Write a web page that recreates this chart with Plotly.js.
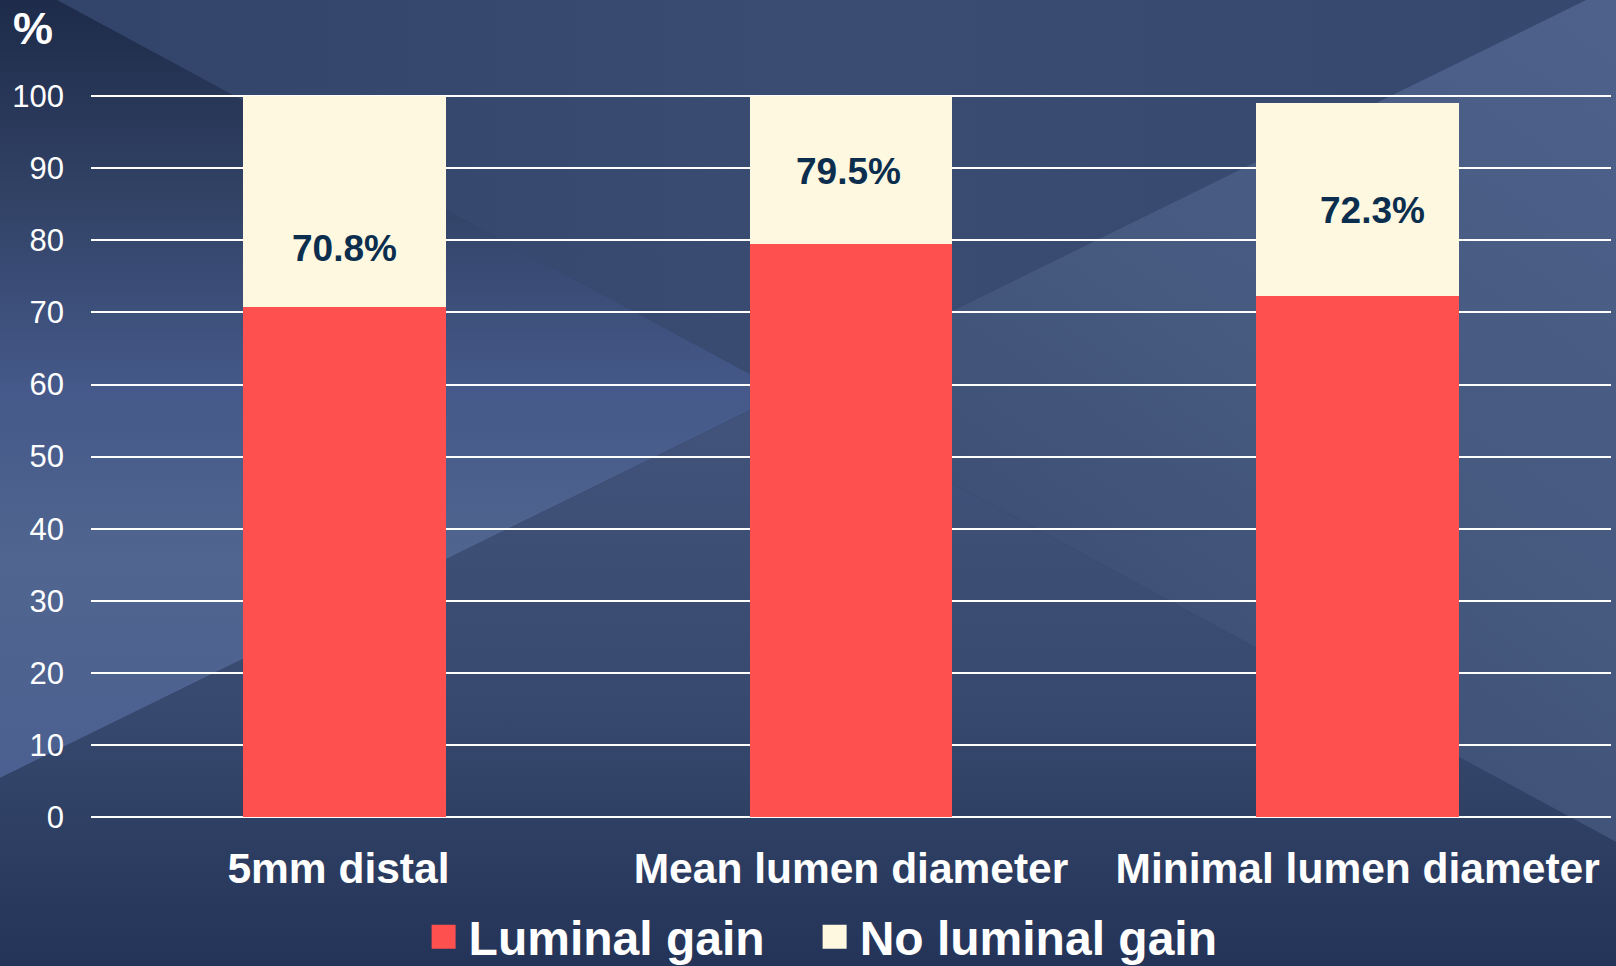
<!DOCTYPE html>
<html><head><meta charset="utf-8">
<script src="https://cdn.plot.ly/plotly-3.0.1.min.js"></script>
<style>
html,body{margin:0;padding:0;width:1616px;height:966px;overflow:hidden;background:#2c3c60}
#bg{position:absolute;left:0;top:0}
#chart{position:absolute;left:0;top:0;width:1616px;height:966px}
</style></head><body>
<svg id="bg" width="1616" height="966" xmlns="http://www.w3.org/2000/svg">
<defs>
<linearGradient id="gTop" x1="0" y1="0" x2="1" y2="0"><stop offset="0" stop-color="#32446a"/><stop offset="0.5" stop-color="#3a4c72"/><stop offset="1" stop-color="#36486d"/></linearGradient>
<linearGradient id="gLeft" x1="0" y1="0" x2="0" y2="1"><stop offset="0" stop-color="#1e2b4a"/><stop offset="0.25" stop-color="#314265"/><stop offset="0.5" stop-color="#45598a"/><stop offset="0.72" stop-color="#50658f"/><stop offset="1" stop-color="#4b6090"/></linearGradient>
<linearGradient id="gRight" x1="1" y1="0" x2="0.3" y2="1"><stop offset="0" stop-color="#4d618b"/><stop offset="0.5" stop-color="#46597f"/><stop offset="1" stop-color="#37486c"/></linearGradient>
<linearGradient id="gBot" x1="0" y1="0" x2="0" y2="1"><stop offset="0" stop-color="#42547b"/><stop offset="0.55" stop-color="#37496e"/><stop offset="1" stop-color="#243458"/></linearGradient>
</defs>
<polygon points="57,0 1586,0 785,393" fill="url(#gTop)"/>
<polygon points="0,0 57,0 785,393 0,778" fill="url(#gLeft)"/>
<polygon points="1586,0 1616,0 1616,842 785,393" fill="url(#gRight)"/>
<polygon points="0,778 785,393 1616,842 1616,966 0,966" fill="url(#gBot)"/>
</svg>
<div id="chart"></div>
<script>
const categories = ['5mm distal', 'Mean lumen diameter', 'Minimal lumen diameter'];
const luminalGain = [70.8, 79.5, 72.3];
const noLuminalGain = [29.2, 20.5, 26.7];
const gainLabels = ['70.8%', '79.5%', '72.3%'];
const yTickValues = [0, 10, 20, 30, 40, 50, 60, 70, 80, 90, 100];
const seriesNames = ['Luminal gain', 'No luminal gain'];
const labelPosY = [78.8, 89.6, 84.2];
const labelShiftX = [0, -3, 15];

const FONT = 'Liberation Sans, Arial, Helvetica, sans-serif';
const NB = '\u00a0';

const traces = [
  {type: 'bar', name: seriesNames[0] + NB + NB + NB, x: categories, y: luminalGain,
   marker: {color: '#ff5050'}, hoverinfo: 'none'},
  {type: 'bar', name: seriesNames[1], x: categories, y: noLuminalGain,
   marker: {color: '#fef8e0'}, hoverinfo: 'none'}
];

const annotations = categories.map((c, i) => ({
  x: c, y: labelPosY[i], xref: 'x', yref: 'y', text: gainLabels[i], showarrow: false,
  xshift: labelShiftX[i],
  font: {family: FONT, size: 37, color: '#0c2e4e', weight: 'bold'}
}));

const layout = {
  width: 1616, height: 966,
  margin: {l: 91, r: 5, t: 94, b: 149, autoexpand: false},
  paper_bgcolor: 'rgba(0,0,0,0)', plot_bgcolor: 'rgba(0,0,0,0)',
  barmode: 'stack', bargap: 0.6,
  showlegend: true,
  title: {text: '%', x: 33 / 1616, xref: 'container', xanchor: 'center',
          y: 1 - 28 / 966, yref: 'container', yanchor: 'middle',
          font: {family: FONT, size: 45, color: '#ffffff', weight: 'bold'}},
  xaxis: {type: 'category', showgrid: false, showline: false, zeroline: false,
          tickvals: categories,
          ticktext: categories.map((c, i) => i === 0 ? c + NB : c),
          ticks: '', ticklabelstandoff: 22, automargin: false,
          tickfont: {family: FONT, size: 42.5, color: '#ffffff', weight: 'bold'}},
  yaxis: {range: [0, 100.3], tickvals: yTickValues, ticktext: yTickValues.map(String),
          showgrid: true, gridcolor: '#ffffff', gridwidth: 2,
          zeroline: true, zerolinecolor: '#ffffff', zerolinewidth: 2,
          showline: false, ticks: '', ticklabelstandoff: 26, automargin: false,
          tickfont: {family: FONT, size: 31, color: '#ffffff'}},
  legend: {orientation: 'h', x: 0.48, xanchor: 'center', y: -0.166, yanchor: 'middle',
           itemwidth: 40, traceorder: 'normal',
           font: {family: FONT, size: 48, color: '#ffffff', weight: 'bold'},
           bgcolor: 'rgba(0,0,0,0)'},
  annotations: annotations
};

Plotly.newPlot('chart', traces, layout, {displayModeBar: false, staticPlot: true}).then(() => {
  document.querySelectorAll('.legendpoints path').forEach(p => p.setAttribute('d', 'M12,12H-12V-12H12Z'));
});
</script>
</body></html>
